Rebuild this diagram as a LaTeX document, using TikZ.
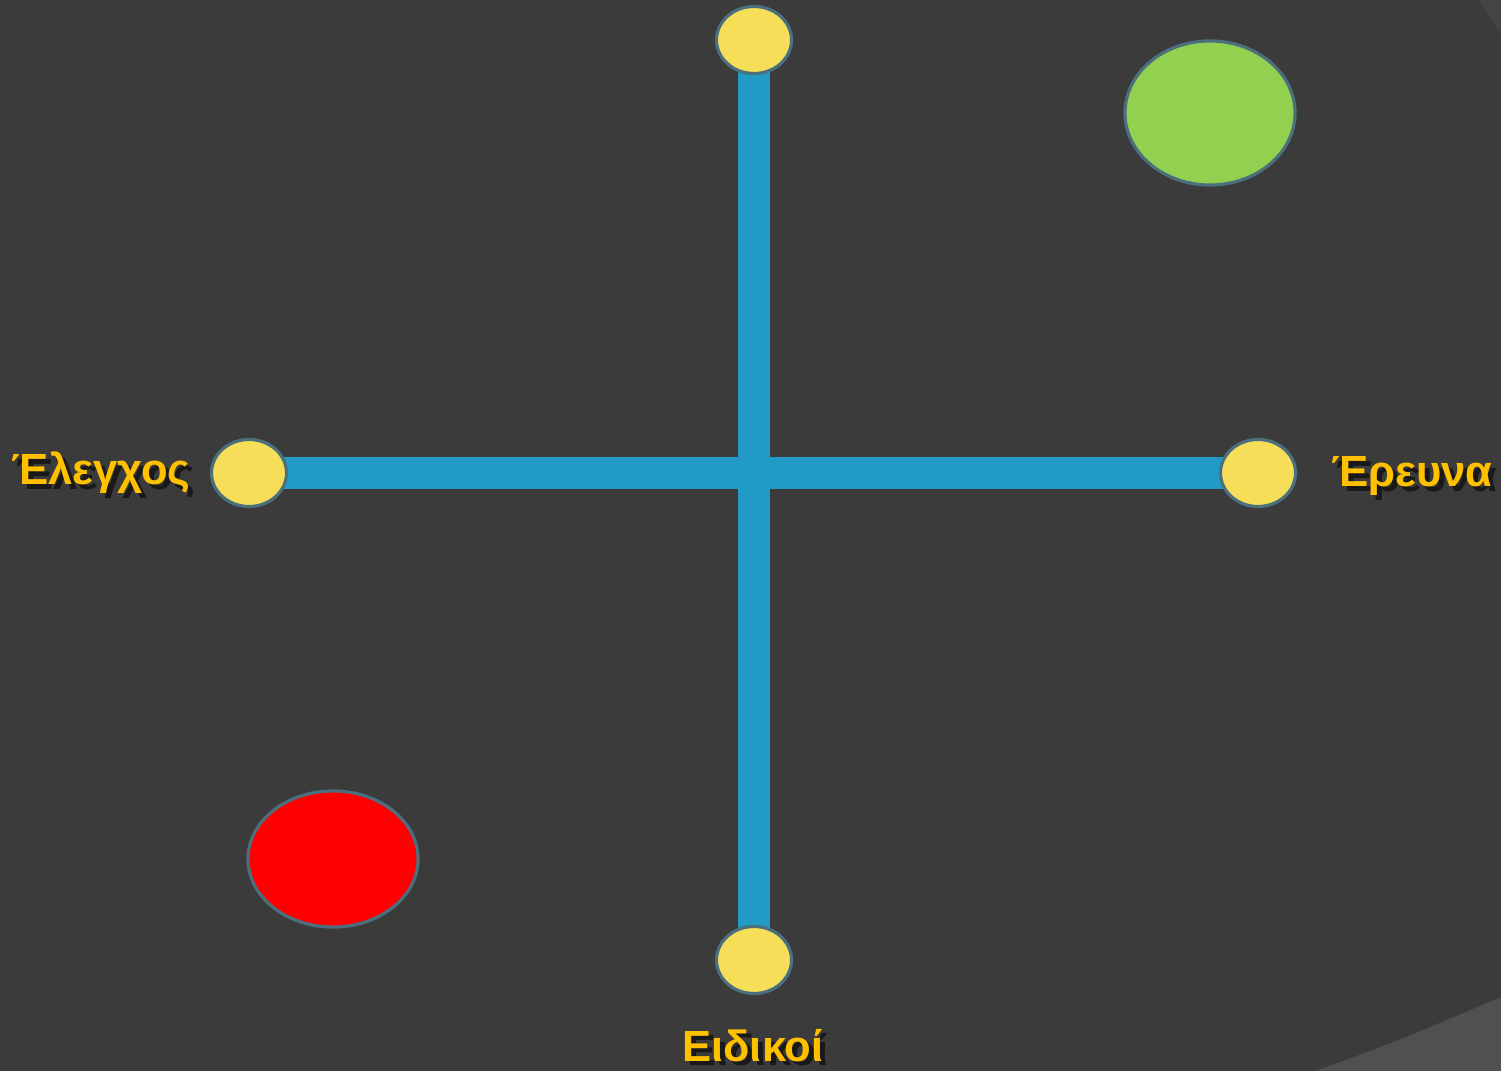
\documentclass[tikz,border=0pt]{standalone}
\usepackage{fontspec}
\setmainfont{Liberation Sans}
\usepackage{tikz}
\usetikzlibrary{positioning,shapes.geometric,backgrounds}
\definecolor{slide}{HTML}{3B3B3B}
\definecolor{slidelt}{HTML}{505050}
\definecolor{slidetop}{HTML}{444444}
\definecolor{axisblue}{HTML}{219BC6}
\definecolor{dotyel}{HTML}{F6DE58}
\definecolor{rimgray}{HTML}{4B6F7D}
\definecolor{okgreen}{HTML}{92D050}
\definecolor{lblgold}{HTML}{FFC000}
\pgfdeclarelayer{canvas}
\pgfsetlayers{canvas,background,main}
\newcommand{\shtxt}[1]{\rlap{\kern1.4pt\raisebox{-1.4pt}{\color{black!90}#1}}#1}
\tikzset{
  axisbar/.style={line width=0.32cm,axisblue},
  dot/.style={ellipse,draw=rimgray,fill=dotyel,line width=0.9pt,minimum width=0.75cm,minimum height=0.67cm,inner sep=0pt},
  blob/.style={ellipse,draw=rimgray,line width=0.9pt,minimum width=1.7cm,minimum height=1.44cm,inner sep=0pt},
  axlbl/.style={font=\fontsize{12.4}{14}\selectfont\bfseries,text=lblgold,inner sep=0pt,anchor=base},
}

\begin{document}
\begin{tikzpicture}[x=0.01cm,y=-0.01cm]
  \useasboundingbox (0,0) rectangle (1501,1071);
  % slide backdrop
  \begin{pgfonlayer}{canvas}
    \fill[slide] (0,0) rectangle (1501,1071);
    \fill[slidetop] (1479,0) .. controls (1489,15) .. (1501,36) -- (1501,0) -- cycle;
    \fill[slidelt] (1316,1071) .. controls (1400,1040) .. (1501,997) -- (1501,1071) -- cycle;
  \end{pgfonlayer}
  % end points
  \node[dot] (top) at (754,40) {};
  \node[dot] (bot) at (754,960) {};
  \node[dot] (lft) at (249,473) {};
  \node[dot] (rgt) at (1258,473) {};
  % axes
  \begin{scope}[on background layer]
    \draw[axisbar] (top.center) -- (bot.center);
    \draw[axisbar] (lft.center) -- (rgt.center);
  \end{scope}
  % markers
  \node[blob,fill=okgreen] (good) at (1210,113) {};
  \node[blob,fill=red,minimum height=1.36cm] (bad) at (333,859) {};
  % labels
  \node[axlbl] (elegchos) at (101,485) {\shtxt{Έλεγχος}};
  \node[axlbl] (erevna) at (1412,487) {\shtxt{Έρευνα}};
  \node[axlbl] (eidikoi) at (753,1061) {\shtxt{Ειδικοί}};
\end{tikzpicture}
\end{document}
